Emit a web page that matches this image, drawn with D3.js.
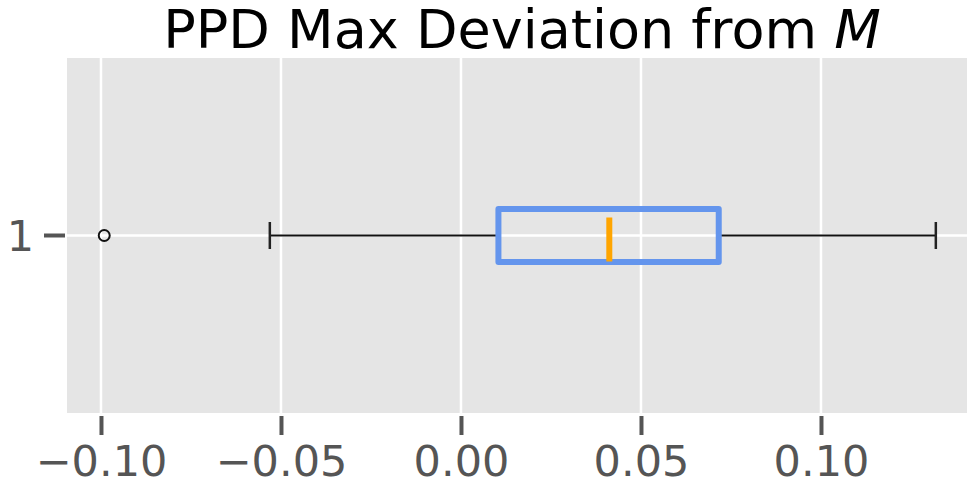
<!DOCTYPE html>
<html>
<head>
<meta charset="utf-8">
<script src="https://cdn.jsdelivr.net/npm/d3@7"></script>
<style>
  html, body { margin: 0; padding: 0; background: #fff; }
  svg { display: block; }
</style>
</head>
<body>
<svg id="chart" width="967" height="486"></svg>
<script>
// Box summary for the single series
const categories = ["1"];
const whiskerLow = [-0.0531];
const q1 = [0.0104];
const median = [0.0412];
const q3 = [0.0716];
const whiskerHigh = [0.1319];
const outliers = [[-0.0991]];
const xTicks = [-0.10, -0.05, 0.00, 0.05, 0.10];
const xTickLabels = ["\u22120.10", "\u22120.05", "0.00", "0.05", "0.10"];

const W = 967, H = 486;
const margin = { left: 67, top: 58, right: 0, bottom: 73 };
const svg = d3.select("#chart");

const x = d3.scaleLinear()
  .domain([-0.10944, 0.14056])
  .range([margin.left, W - margin.right]);
const y = d3.scaleBand()
  .domain(categories)
  .range([margin.top, H - margin.bottom])
  .paddingInner(0).paddingOuter(0);

const fontFam = "'DejaVu Sans', sans-serif";

// Plot background
svg.append("rect")
  .attr("x", margin.left).attr("y", margin.top)
  .attr("width", W - margin.left - margin.right)
  .attr("height", H - margin.top - margin.bottom)
  .attr("fill", "#e5e5e5");

// Vertical grid lines
svg.append("g").selectAll("line").data(xTicks).join("line")
  .attr("x1", d => x(d)).attr("x2", d => x(d))
  .attr("y1", margin.top).attr("y2", H - margin.bottom)
  .attr("stroke", "#fff").attr("stroke-width", 2.5);

// Horizontal grid line at each category
svg.append("g").selectAll("line").data(categories).join("line")
  .attr("x1", margin.left).attr("x2", W - margin.right)
  .attr("y1", d => y(d) + y.bandwidth() / 2).attr("y2", d => y(d) + y.bandwidth() / 2)
  .attr("stroke", "#fff").attr("stroke-width", 2.5);

// X axis
const xAxis = svg.append("g")
  .attr("transform", `translate(0,${H - margin.bottom})`)
  .call(d3.axisBottom(x).tickValues(xTicks)
    .tickFormat((d, i) => xTickLabels[i])
    .tickSizeInner(22).tickSizeOuter(0).tickPadding(10));
xAxis.select(".domain").remove();
xAxis.selectAll(".tick line").attr("stroke", "#555").attr("stroke-width", 4)
  .attr("y1", 3);
xAxis.selectAll(".tick text")
  .attr("fill", "#555").attr("font-family", fontFam).attr("font-size", 43);

// Y axis
const yAxis = svg.append("g")
  .attr("transform", `translate(${margin.left},0)`)
  .call(d3.axisLeft(y).tickSizeInner(23).tickSizeOuter(0).tickPadding(10));
yAxis.select(".domain").remove();
yAxis.selectAll(".tick line").attr("stroke", "#555").attr("stroke-width", 4)
  .attr("x1", -2);
yAxis.selectAll(".tick text")
  .attr("fill", "#555").attr("font-family", fontFam).attr("font-size", 43)
  .attr("dy", "0.36em");

// Boxes
const bh = 53;
const g = svg.append("g");
categories.forEach((c, i) => {
  const cy = y(c) + y.bandwidth() / 2;
  // whiskers
  g.append("line")
    .attr("x1", x(whiskerLow[i])).attr("x2", x(q1[i]))
    .attr("y1", cy).attr("y2", cy)
    .attr("stroke", "#111").attr("stroke-width", 2);
  g.append("line")
    .attr("x1", x(q3[i])).attr("x2", x(whiskerHigh[i]))
    .attr("y1", cy).attr("y2", cy)
    .attr("stroke", "#111").attr("stroke-width", 2);
  // caps
  [whiskerLow[i], whiskerHigh[i]].forEach(v => {
    g.append("line")
      .attr("x1", x(v)).attr("x2", x(v))
      .attr("y1", cy - 13.5).attr("y2", cy + 13.5)
      .attr("stroke", "#222").attr("stroke-width", 2.5);
  });
  // box
  g.append("rect")
    .attr("x", x(q1[i])).attr("y", cy - bh / 2)
    .attr("width", x(q3[i]) - x(q1[i])).attr("height", bh)
    .attr("fill", "none").attr("stroke", "#6495ed").attr("stroke-width", 6)
    .attr("stroke-linejoin", "round");
  // median
  g.append("line")
    .attr("x1", x(median[i])).attr("x2", x(median[i]))
    .attr("y1", cy - 18).attr("y2", cy + 26)
    .attr("stroke", "#ffa500").attr("stroke-width", 6);
  // outliers
  g.selectAll(null).data(outliers[i]).join("circle")
    .attr("cx", d => x(d)).attr("cy", cy).attr("r", 5.5)
    .attr("fill", "none").attr("stroke", "#111").attr("stroke-width", 2);
});

// Title
const title = svg.append("text")
  .attr("x", (margin.left + W) / 2 + 5).attr("y", 48)
  .attr("text-anchor", "middle")
  .attr("font-family", fontFam).attr("font-size", 54).attr("fill", "#000");
title.append("tspan").text("PPD Max Deviation from ");
title.append("tspan").attr("font-style", "italic").text("M");
</script>
</body>
</html>
